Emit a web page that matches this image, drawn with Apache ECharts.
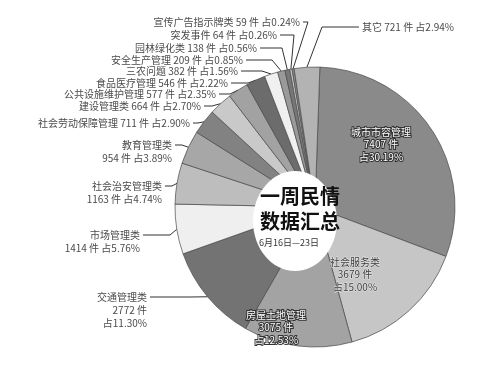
<!DOCTYPE html>
<html>
<head>
<meta charset="utf-8">
<script src="https://cdn.jsdelivr.net/npm/echarts@6/dist/echarts.min.js"></script>
<style>
  html, body { margin: 0; padding: 0; background: #fff; }
  #chart { width: 502px; height: 373px; }
</style>
</head>
<body>
<div id="chart"></div>
<script>
// 一周民情数据汇总 (6月16日—23日)
const categories = ['城市市容管理', '社会服务类', '房屋土地管理', '交通管理类', '市场管理类', '社会治安管理类',
  '教育管理类', '社会劳动保障管理', '建设管理类', '公共设施维护管理', '食品医疗管理', '三农问题',
  '安全生产管理', '园林绿化类', '突发事件', '宣传广告指示牌类', '其它']
const counts = [7407, 3679, 3075, 2772, 1414, 1163, 954, 711, 664, 577, 546, 382, 209, 138, 64, 59, 721]
const shares = ['30.19', '15.00', '12.53', '11.30', '5.76', '4.74', '3.89', '2.90', '2.70', '2.35', '2.22', '1.56',
  '0.85', '0.56', '0.26', '0.24', '2.94']

// styling / layout (not data)
const grays = ['#8a8a8a', '#c6c6c6', '#a3a3a3', '#737373', '#efefef', '#bdbdbd', '#a7a7a7', '#828282',
  '#c9c9c9', '#a2a2a2', '#6c6c6c', '#f0f0f0', '#9a9a9a', '#777777', '#c8c8c8', '#8a8a8a', '#b3b3b3']
// 0 = one line, 1 = name / count+share, 2 = name / count / share
const lineBreaks = [2, 2, 2, 2, 1, 1, 1, 0, 0, 0, 0, 0, 0, 0, 0, 0, 0]
// [x, first line middle y, align, elbow x]
const labelSpots = [
  [381, 132, 'center'],
  [355, 262, 'center'],
  [276, 315, 'center'],
  [147, 297, 'right', 190],
  [140, 235, 'right', 170],
  [162, 186, 'right', 172],
  [172, 145, 'right', 182],
  [190, 123, 'right', 198],
  [201, 106, 'right', 212],
  [216, 94, 'right', 230],
  [228, 83, 'right', 248],
  [238, 71, 'right', 262],
  [243, 60, 'right', 272],
  [257, 48, 'right', 282],
  [277, 35, 'right', 294],
  [300, 22, 'right', 308],
  [362, 27, 'left', 322]
]
const LINE_H = 13

function labelText (i) {
  const name = categories[i]
  const num = counts[i] + ' 件'
  const pct = '占' + shares[i] + '%'
  if (lineBreaks[i] === 2) return name + '\n' + num + '\n' + pct
  if (lineBreaks[i] === 1) return name + '\n' + num + ' ' + pct
  return name + ' ' + num + ' ' + pct
}

const pieData = categories.map((name, i) => {
  const inside = labelSpots[i][2] === 'center'
  return {
    name: name,
    value: counts[i],
    itemStyle: { color: grays[i] },
    label: inside ? {
      position: 'inside',
      color: i === 1 ? '#3a3a3a' : '#fff',
      textBorderColor: i === 1 ? '#e6e6e6' : '#333',
      textBorderWidth: i === 1 ? 1 : 2,
      fontSize: 10,
      lineHeight: 12.5,
      align: 'center'
    } : {
      position: 'outside',
      color: '#4a4a4a',
      fontSize: 10,
      lineHeight: LINE_H
    },
    labelLine: { show: !inside }
  }
})

const myChart = echarts.init(document.getElementById('chart'))
myChart.setOption({
  backgroundColor: '#fff',
  animation: false,
  graphic: {
    elements: [
      {
        type: 'ellipse',
        z: 100,
        shape: { cx: 295, cy: 221, rx: 42, ry: 50 },
        style: { fill: '#fff' }
      },
      {
        type: 'text',
        z: 101,
        x: 300,
        y: 196,
        style: { text: '一周民情', fill: '#111', font: 'bold 20px "Noto Sans CJK SC"', align: 'center', verticalAlign: 'middle' }
      },
      {
        type: 'text',
        z: 101,
        x: 300,
        y: 221,
        style: { text: '数据汇总', fill: '#111', font: 'bold 20px "Noto Sans CJK SC"', align: 'center', verticalAlign: 'middle' }
      },
      {
        type: 'text',
        z: 101,
        x: 289,
        y: 243,
        style: { text: '6月16日—23日', fill: '#333', font: '9px "Noto Sans CJK SC"', align: 'center', verticalAlign: 'middle' }
      }
    ]
  },
  series: [
    {
      type: 'pie',
      center: [315, 207],
      radius: [0, 140],
      startAngle: 88,
      clockwise: true,
      avoidLabelOverlap: false,
      itemStyle: { borderColor: '#4a4a4a', borderWidth: 0.7 },
      label: {
        fontFamily: 'Noto Sans CJK SC',
        formatter: function (p) { return labelText(p.dataIndex) }
      },
      labelLine: { lineStyle: { color: '#333', width: 1 } },
      labelLayout: function (p) {
        const s = labelSpots[p.dataIndex]
        const out = { x: s[0], y: s[1] - LINE_H / 2, align: s[2], verticalAlign: 'top' }
        if (s[2] !== 'center' && p.labelLinePoints) {
          const tip = s[2] === 'right' ? s[0] + 3 : s[0] - 3
          out.labelLinePoints = [p.labelLinePoints[0], [s[3], s[1]], [tip, s[1]]]
        }
        return out
      },
      data: pieData
    }
  ]
})
</script>
</body>
</html>
